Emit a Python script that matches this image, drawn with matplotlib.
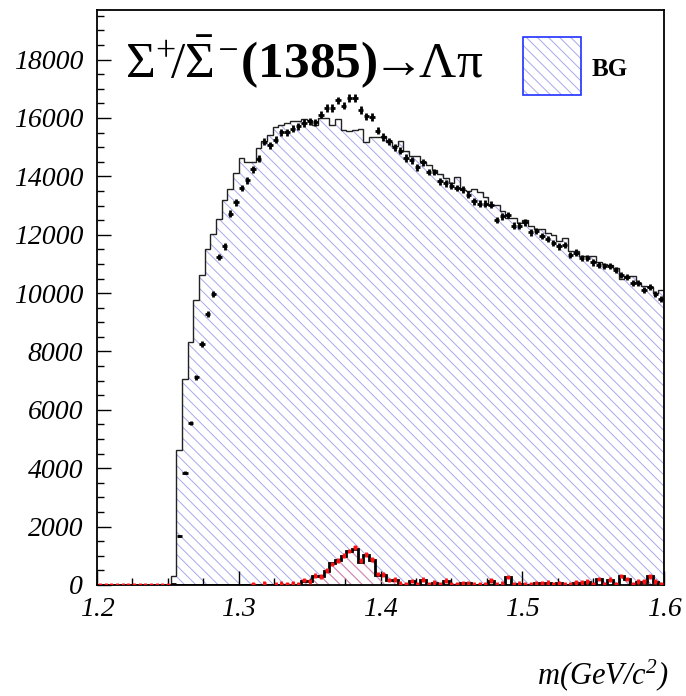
import numpy as np
import matplotlib
matplotlib.use("Agg")
import matplotlib.pyplot as plt
from matplotlib.patches import Rectangle
from matplotlib.ticker import MultipleLocator

# ---------------- data ----------------
x_min, x_max, n_bins = 1.2, 1.6, 100

bg_counts = [
    0, 0, 0, 0, 0, 0, 0, 0, 0, 0, 0, 0, 0,
    320, 4630, 7060, 8340, 9770, 10630, 11520, 12020, 12540, 13180,
    13560, 14110, 14630, 14480, 14480, 14970, 15200, 15430, 15690, 15770,
    15830, 15900, 15900, 15960, 15940, 15750, 16000, 16000, 15770, 15960,
    15600, 15560, 15600, 15640, 15190, 15350, 15350, 15390, 15180, 15030,
    15200, 14870, 14700, 14700, 14480, 14400, 14220, 14080, 13950, 13770,
    13980, 13540, 13490, 13560, 13450, 13290, 13030, 13030, 12800, 12570,
    12570, 12400, 12510, 12300, 12200, 12190, 12060, 12000, 11770, 11900,
    11460, 11460, 11260, 11260, 11260, 11080, 11000, 10970, 10860, 10480,
    10590, 10590, 10340, 10250, 10200, 10000, 10110,
]

data_counts = [
    np.nan] * 13 + [
    40, 1680, 3850, 5540, 7120, 8260, 9290, 9980, 11230, 11600,
    12720, 13110, 13600, 13860, 14250, 14610, 15190, 15060, 15260, 15510,
    15510, 15630, 15710, 15830, 15880, 15850, 16110, 16340, 16340, 16600,
    16420, 16690, 16690, 16280, 16060, 16030, 15560, 15350, 15200, 15000,
    14880, 14630, 14550, 14320, 14480, 14150, 14150, 13830, 13770, 13680,
    13600, 13560, 13370, 13140, 13060, 13060, 13030, 12510, 12630, 12680,
    12310, 12310, 12420, 12080, 12130, 11960, 11850, 11710, 11600, 11660,
    11310, 11390, 11200, 11200, 11050, 10970, 10940, 10940, 10800, 10630,
    10550, 10340, 10360, 10110, 10200, 9980, 9800,
]

sig_counts = [0] * 36 + [
    150, 150, 300, 300, 490, 750, 850, 980, 1150, 1230,
    780, 1020, 850, 350, 350, 160, 160, 0, 0, 150,
    0, 170, 0, 80, 0, 150, 0, 0, 60, 60,
    0, 0, 0, 150, 0, 0, 260, 0, 30, 0,
    0, 60, 60, 60, 0, 60, 0, 0, 80, 80,
    110, 0, 200, 0, 170, 0, 300, 200, 0, 110,
    110, 300, 110, 0,
]

sig_data = [0] * 13 + [np.nan] * 14 + [
    30, np.nan, 60, np.nan, 10, 40, 30, 60, 30,
    170, 120, 320, 280, 500, 720, 830, 1000, 1160, 1290,
    830, 1050, 880, 380, 360, 170, 190, 40, 20, 140,
    30, 180, 20, 90, 10, 150, 20, 30, 70, 60,
    10, 20, 30, 160, 20, 40, 270, 20, 50, 10,
    30, 70, 70, 80, 20, 70, 20, 30, 90, 90,
    120, 30, 210, 20, 180, 20, 310, 210, 20, 120,
    120, 300, 120, 30,
]
sig_err = 80

title_text = (r'$\Sigma^{+}\!/\bar{\Sigma}^{\mathsf{-}}$(1385)'
              r'$\!\!\rightarrow\!\!\Lambda\mathrm{\pi}$')
legend_label = 'BG'
x_label = r'm(GeV/c$^{\mathsf{2}}$)'

# ---------------- style ----------------
plt.rcParams['font.family'] = ['Liberation Serif', 'DejaVu Serif']
plt.rcParams['mathtext.fontset'] = 'custom'
plt.rcParams['mathtext.rm'] = 'Liberation Serif'
plt.rcParams['mathtext.it'] = 'Liberation Serif:italic'
plt.rcParams['mathtext.bf'] = 'Liberation Serif:bold'
plt.rcParams['mathtext.sf'] = 'Liberation Serif:italic'
plt.rcParams['hatch.linewidth'] = 0.7

bg_hatch = '#a8a8ec'
sig_hatch = '#e08aa8'

edges = np.linspace(x_min, x_max, n_bins + 1)
centers = 0.5 * (edges[:-1] + edges[1:])
bg = np.array(bg_counts, float)
data = np.array(data_counts, float)
sig = np.array(sig_counts, float)
sdat = np.array(sig_data, float)

fig = plt.figure(figsize=(6.86, 6.96), dpi=100)
ax = fig.add_axes([97 / 686, 1 - 585 / 696, 567 / 686, 575 / 696])

ax.stairs(bg, edges, fill=True, facecolor='none', edgecolor=bg_hatch,
          hatch='\\\\\\', linewidth=0, zorder=1)
ax.stairs(bg, edges, color='#222222', linewidth=1.0, zorder=1.5)

ax.stairs(sig, edges, fill=True, facecolor='none', edgecolor=sig_hatch,
          hatch='\\\\\\', linewidth=0, zorder=1.6)
ax.stairs(sig, edges, color='black', linewidth=2.0, zorder=1.7)

ax.errorbar(centers, data, xerr=0.0019, yerr=np.sqrt(data), fmt='none',
            ecolor='black', elinewidth=2.0, capsize=0, zorder=2)
ax.errorbar(centers, sdat, xerr=0.0012, yerr=sig_err, fmt='none',
            ecolor='#ff1010', elinewidth=2.0, capsize=0, zorder=3)

ax.set_xlim(x_min, x_max)
ax.set_ylim(0, 19700)
ax.xaxis.set_major_locator(MultipleLocator(0.1))
ax.xaxis.set_minor_locator(MultipleLocator(0.025))
ax.yaxis.set_major_locator(MultipleLocator(2000))
ax.yaxis.set_minor_locator(MultipleLocator(500))
ax.tick_params(which='both', direction='in', top=False, right=False,
               labelsize=20, width=1.0)
ax.tick_params(which='major', length=10)
ax.tick_params(which='minor', length=5)
ax.tick_params(axis='y', pad=10)
ax.tick_params(axis='x', pad=9)
for lab in ax.get_xticklabels() + ax.get_yticklabels():
    lab.set_fontstyle('italic')
for sp in ax.spines.values():
    sp.set_linewidth(1.3)

ax.text(0.049, 0.8835, title_text, transform=ax.transAxes, fontsize=37,
        fontweight='bold', ha='left', va='baseline', zorder=5)

ax.add_patch(Rectangle((0.751, 0.852), 0.102, 0.101, transform=ax.transAxes,
                       facecolor='none', edgecolor=bg_hatch, hatch='\\\\\\',
                       linewidth=0, zorder=5))
ax.add_patch(Rectangle((0.751, 0.852), 0.102, 0.101, transform=ax.transAxes,
                       facecolor='none', edgecolor='#2030ff', linewidth=1.2,
                       zorder=5))
ax.text(0.873, 0.897, legend_label, transform=ax.transAxes, fontsize=18,
        fontweight='bold', ha='left', va='center', zorder=5)

fig.text(668 / 686, 1 - 684 / 696, x_label, fontsize=22, fontstyle='italic',
         ha='right', va='baseline')

fig.savefig('out.png', dpi=100)
